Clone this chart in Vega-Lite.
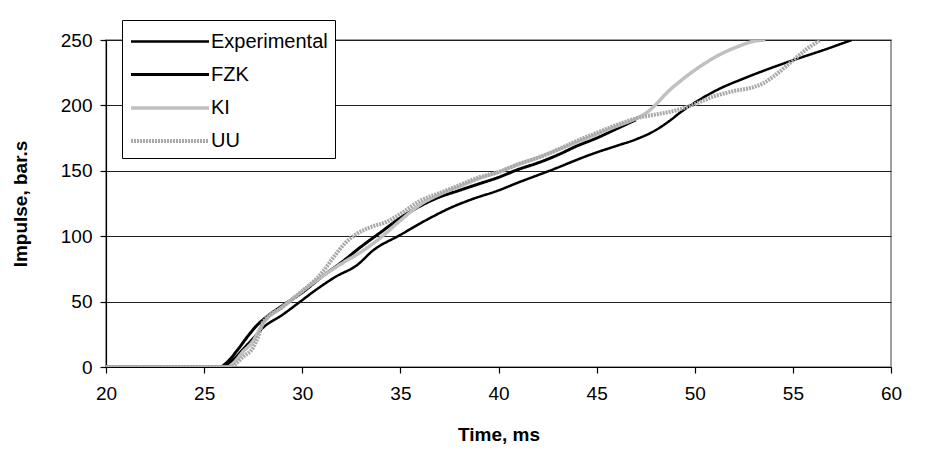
{
  "$schema": "https://vega.github.io/schema/vega-lite/v6.json",
  "width": 785,
  "height": 327,
  "autosize": {"type": "none"},
  "padding": {"left": 106, "top": 40, "right": 42, "bottom": 100},
  "background": "white",
  "config": {
    "font": "Liberation Sans",
    "view": {"stroke": "#808080", "strokeWidth": 1.5},
    "axis": {"labelFont": "Liberation Sans", "titleFont": "Liberation Sans", "labelColor": "black", "titleColor": "black", "domainColor": "black", "tickColor": "black", "gridColor": "#202020", "gridWidth": 1, "domainWidth": 1.2, "tickWidth": 1.2}
  },
  "data": {"values": [
    {"t": 20, "v": 0, "s": "Experimental"},
    {"t": 25.9, "v": 0, "s": "Experimental"},
    {"t": 26.5, "v": 6, "s": "Experimental"},
    {"t": 27, "v": 14, "s": "Experimental"},
    {"t": 27.5, "v": 22, "s": "Experimental"},
    {"t": 28, "v": 30, "s": "Experimental"},
    {"t": 29, "v": 40, "s": "Experimental"},
    {"t": 29.9, "v": 50, "s": "Experimental"},
    {"t": 30.7, "v": 59, "s": "Experimental"},
    {"t": 31.7, "v": 69, "s": "Experimental"},
    {"t": 32.8, "v": 78, "s": "Experimental"},
    {"t": 33.6, "v": 89, "s": "Experimental"},
    {"t": 35, "v": 101, "s": "Experimental"},
    {"t": 36.4, "v": 113, "s": "Experimental"},
    {"t": 37.6, "v": 122, "s": "Experimental"},
    {"t": 38.6, "v": 128, "s": "Experimental"},
    {"t": 40, "v": 135, "s": "Experimental"},
    {"t": 41, "v": 141, "s": "Experimental"},
    {"t": 42.6, "v": 150, "s": "Experimental"},
    {"t": 44.8, "v": 163, "s": "Experimental"},
    {"t": 46, "v": 169, "s": "Experimental"},
    {"t": 47, "v": 174, "s": "Experimental"},
    {"t": 48, "v": 181, "s": "Experimental"},
    {"t": 48.7, "v": 188, "s": "Experimental"},
    {"t": 49.3, "v": 195, "s": "Experimental"},
    {"t": 50.1, "v": 203, "s": "Experimental"},
    {"t": 51.3, "v": 213, "s": "Experimental"},
    {"t": 52.4, "v": 220, "s": "Experimental"},
    {"t": 53.6, "v": 227, "s": "Experimental"},
    {"t": 55, "v": 234.5, "s": "Experimental"},
    {"t": 56.5, "v": 242, "s": "Experimental"},
    {"t": 58, "v": 250, "s": "Experimental"},

    {"t": 20, "v": 0, "s": "FZK"},
    {"t": 25.8, "v": 0, "s": "FZK"},
    {"t": 26.2, "v": 4, "s": "FZK"},
    {"t": 26.7, "v": 13, "s": "FZK"},
    {"t": 27.25, "v": 24, "s": "FZK"},
    {"t": 27.7, "v": 32, "s": "FZK"},
    {"t": 28.2, "v": 38.5, "s": "FZK"},
    {"t": 29, "v": 47, "s": "FZK"},
    {"t": 30, "v": 57, "s": "FZK"},
    {"t": 31, "v": 69, "s": "FZK"},
    {"t": 32, "v": 80, "s": "FZK"},
    {"t": 33, "v": 92, "s": "FZK"},
    {"t": 34, "v": 103, "s": "FZK"},
    {"t": 35, "v": 114, "s": "FZK"},
    {"t": 36, "v": 123, "s": "FZK"},
    {"t": 37, "v": 130, "s": "FZK"},
    {"t": 38, "v": 135, "s": "FZK"},
    {"t": 39, "v": 140, "s": "FZK"},
    {"t": 40, "v": 145, "s": "FZK"},
    {"t": 41, "v": 151, "s": "FZK"},
    {"t": 42, "v": 156, "s": "FZK"},
    {"t": 43, "v": 162, "s": "FZK"},
    {"t": 44, "v": 169, "s": "FZK"},
    {"t": 45, "v": 175, "s": "FZK"},
    {"t": 46, "v": 182, "s": "FZK"},
    {"t": 47, "v": 189, "s": "FZK"},

    {"t": 20, "v": 0, "s": "KI"},
    {"t": 26.2, "v": 0, "s": "KI"},
    {"t": 27, "v": 12, "s": "KI"},
    {"t": 27.5, "v": 20, "s": "KI"},
    {"t": 27.8, "v": 28, "s": "KI"},
    {"t": 28, "v": 33, "s": "KI"},
    {"t": 29, "v": 46, "s": "KI"},
    {"t": 30, "v": 58, "s": "KI"},
    {"t": 31, "v": 69, "s": "KI"},
    {"t": 32, "v": 79, "s": "KI"},
    {"t": 33, "v": 88, "s": "KI"},
    {"t": 34, "v": 99, "s": "KI"},
    {"t": 35, "v": 112, "s": "KI"},
    {"t": 36, "v": 124, "s": "KI"},
    {"t": 37, "v": 132, "s": "KI"},
    {"t": 38, "v": 138, "s": "KI"},
    {"t": 39, "v": 144, "s": "KI"},
    {"t": 40, "v": 149, "s": "KI"},
    {"t": 41, "v": 155, "s": "KI"},
    {"t": 42, "v": 160, "s": "KI"},
    {"t": 43, "v": 166, "s": "KI"},
    {"t": 44, "v": 172, "s": "KI"},
    {"t": 45, "v": 178, "s": "KI"},
    {"t": 46, "v": 184, "s": "KI"},
    {"t": 47, "v": 190, "s": "KI"},
    {"t": 47.6, "v": 195, "s": "KI"},
    {"t": 48.1, "v": 202, "s": "KI"},
    {"t": 48.6, "v": 210, "s": "KI"},
    {"t": 49.3, "v": 219, "s": "KI"},
    {"t": 50.1, "v": 228, "s": "KI"},
    {"t": 51.3, "v": 239, "s": "KI"},
    {"t": 52.2, "v": 245, "s": "KI"},
    {"t": 53, "v": 249, "s": "KI"},
    {"t": 53.6, "v": 250, "s": "KI"},

    {"t": 20, "v": 0, "s": "UU"},
    {"t": 26.3, "v": 0, "s": "UU"},
    {"t": 27, "v": 8, "s": "UU"},
    {"t": 27.5, "v": 15, "s": "UU"},
    {"t": 27.8, "v": 25, "s": "UU"},
    {"t": 28, "v": 34, "s": "UU"},
    {"t": 29, "v": 46, "s": "UU"},
    {"t": 30, "v": 58, "s": "UU"},
    {"t": 31, "v": 72, "s": "UU"},
    {"t": 31.6, "v": 84, "s": "UU"},
    {"t": 32.2, "v": 95, "s": "UU"},
    {"t": 32.8, "v": 102, "s": "UU"},
    {"t": 33.5, "v": 107, "s": "UU"},
    {"t": 34.3, "v": 111, "s": "UU"},
    {"t": 35, "v": 117, "s": "UU"},
    {"t": 36, "v": 127, "s": "UU"},
    {"t": 37, "v": 133, "s": "UU"},
    {"t": 38, "v": 139, "s": "UU"},
    {"t": 39, "v": 145, "s": "UU"},
    {"t": 40, "v": 149, "s": "UU"},
    {"t": 41, "v": 155, "s": "UU"},
    {"t": 42, "v": 160, "s": "UU"},
    {"t": 43, "v": 166, "s": "UU"},
    {"t": 44, "v": 173, "s": "UU"},
    {"t": 45, "v": 179, "s": "UU"},
    {"t": 46, "v": 185, "s": "UU"},
    {"t": 47, "v": 190, "s": "UU"},
    {"t": 48, "v": 193, "s": "UU"},
    {"t": 49, "v": 196, "s": "UU"},
    {"t": 50, "v": 201, "s": "UU"},
    {"t": 51, "v": 207, "s": "UU"},
    {"t": 52, "v": 211, "s": "UU"},
    {"t": 53, "v": 214, "s": "UU"},
    {"t": 53.5, "v": 217, "s": "UU"},
    {"t": 54, "v": 222, "s": "UU"},
    {"t": 54.9, "v": 233, "s": "UU"},
    {"t": 55.7, "v": 243, "s": "UU"},
    {"t": 56.4, "v": 250, "s": "UU"}
  ]},
  "mark": {"type": "line", "interpolate": "monotone", "clip": true},
  "encoding": {
    "x": {"field": "t", "type": "quantitative",
      "scale": {"domain": [20, 60], "nice": false, "zero": false},
      "axis": {"title": "Time, ms", "values": [20, 25, 30, 35, 40, 45, 50, 55, 60], "grid": false, "tickSize": 6, "labelFlush": false, "labelFontSize": 19, "labelPadding": 11, "titleFontSize": 19, "titleFontWeight": "bold", "titlePadding": 22}},
    "y": {"field": "v", "type": "quantitative",
      "scale": {"domain": [0, 250], "nice": false},
      "axis": {"title": "Impulse, bar.s", "values": [0, 50, 100, 150, 200, 250], "grid": true, "tickSize": 6, "labelFlush": false, "labelFontSize": 19, "labelPadding": 8, "titleFontSize": 19, "titleFontWeight": "bold", "titlePadding": 30}},
    "color": {"field": "s", "type": "nominal",
      "scale": {"domain": ["Experimental", "FZK", "KI", "UU"], "range": ["#000000", "#000000", "#c0c0c0", "#a8a8a8"]},
      "legend": {"title": null, "orient": "none", "legendX": 16, "legendY": -20, "symbolType": "M-3,0H3", "symbolSize": 676, "symbolOffset": 26, "labelFontSize": 20, "labelFont": "Liberation Sans", "labelColor": "black", "labelOffset": 26, "rowPadding": 8, "strokeColor": "black", "fillColor": "white", "padding": 7}},
    "strokeWidth": {"field": "s", "type": "nominal",
      "scale": {"domain": ["Experimental", "FZK", "KI", "UU"], "range": [2.5, 4, 5, 4]}},
    "strokeDash": {"field": "s", "type": "nominal",
      "scale": {"domain": ["Experimental", "FZK", "KI", "UU"], "range": [[1, 0], [1, 0], [1, 0], [2, 1]]}}
  }
}
